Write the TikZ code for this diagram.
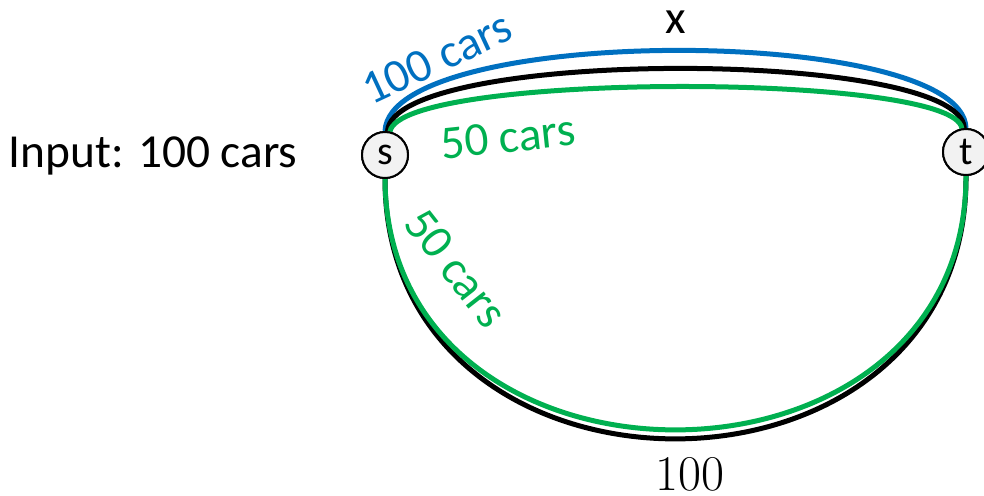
\documentclass[tikz,border=0pt]{standalone}
\usepackage{fontspec}
\newfontfamily\carlito{Carlito}
\definecolor{cblue}{HTML}{0070C0}
\definecolor{cgreen}{HTML}{00B050}
\definecolor{nodegray}{HTML}{F2F2F2}
\tikzset{
  lbl/.style={font=\carlito\fontsize{23.7}{28}\selectfont, inner sep=0pt},
  vertex/.style={circle, draw=black, line width=1pt, fill=nodegray, minimum size=23pt, inner sep=0pt, font=\carlito\fontsize{20}{24}\selectfont},
  road/.style={line width=2.5pt},
}
\begin{document}
\begin{tikzpicture}[x=0.5pt,y=-0.5pt]
\useasboundingbox (0,0) rectangle (984,495);
\node[vertex] (s) at (385,155) {\phantom{s}};
\node[vertex] (t) at (966,152) {\phantom{t}};
% top routes
\draw[road, cblue] (s.90) .. controls (390,24) and (962,24) .. (t.90);
\draw[road, black] (s.84) .. controls (393,48) and (960,48) .. (t.94);
\draw[road, cgreen] (s.78) .. controls (400,72) and (955,72) .. (t.100);
% bottom routes
\draw[road, black] (s.south) .. controls (385,526) and (968,526) .. (t.south);
\draw[road, cgreen] (s.south) .. controls (387,514) and (966,514) .. (t.south);
% nodes on top
\node[vertex] (s2) at (s) {s};
\node[vertex] (t2) at (t) {t};
% labels
\node[lbl] (input) at (153,156) {Input: 100 cars};
\node[lbl] (xlbl) at (676,22) {x};
\node[lbl, text=cblue, rotate=25] (l100) at (437,58) {100 cars};
\node[lbl, text=cgreen, rotate=6] (l50a) at (508,137) {50 cars};
\node[lbl, text=cgreen, rotate=-52] (l50b) at (456,268) {50 cars};
\node[inner sep=0pt, font=\rmfamily\fontsize{25}{30}\selectfont] (c100) at (690,474) {100};
\end{tikzpicture}
\end{document}
